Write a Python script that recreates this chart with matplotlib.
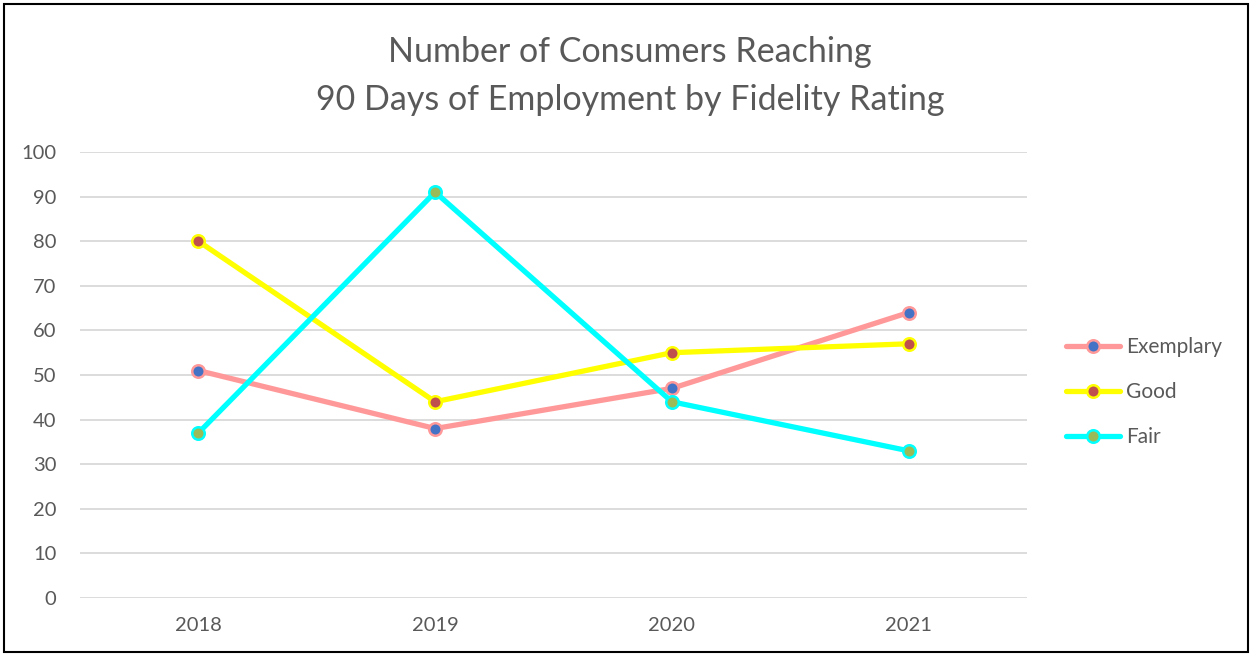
import matplotlib
matplotlib.use("Agg")
import matplotlib.pyplot as plt
from matplotlib.patches import Rectangle

years = ["2018", "2019", "2020", "2021"]
exemplary = [51, 38, 47, 64]
good = [80, 44, 55, 57]
fair = [37, 91, 44, 33]
yticks = [0, 10, 20, 30, 40, 50, 60, 70, 80, 90, 100]

plt.rcParams['font.family'] = ['Lato', 'DejaVu Sans']
fig = plt.figure(figsize=(12.52, 6.56), dpi=100)
ax = fig.add_axes([80/1252, 1-598/656, (1027-80)/1252, (598-152)/656])

x = list(range(len(years)))
series = [
    ("Exemplary", exemplary, "#FF9999", "#4472C4"),
    ("Good", good, "#FFFF00", "#C0504D"),
    ("Fair", fair, "#00FFFF", "#9BBB59"),
]
for name, vals, lc, mc in series:
    ax.plot(x, vals, color=lc, lw=3.8, marker="o", markersize=9,
            markerfacecolor=mc, markeredgecolor=lc, markeredgewidth=1.8,
            label=name, solid_capstyle="round", zorder=3)

ax.set_xlim(-0.5, 3.5)
ax.set_ylim(0, 100)
ax.set_yticks(yticks)
ax.set_xticks(x)
ax.set_xticklabels(years)
ax.tick_params(length=0, labelsize=14.5, colors="#595959", pad=14)
ax.tick_params(axis="y", pad=17)
ax.grid(axis="y", color="#D9D9D9", lw=1.3)
ax.set_axisbelow(True)
for s in ax.spines.values():
    s.set_visible(False)

fig.text(630/1252, 1-52/656, "Number of Consumers Reaching", ha="center", va="center",
         fontsize=24.5, color="#595959")
fig.text(630/1252, 1-100/656, "90 Days of Employment by Fidelity Rating", ha="center", va="center",
         fontsize=24.5, color="#595959")

leg = fig.legend(loc="center left", bbox_to_anchor=(1047/1252, 1-392/656), frameon=False,
                 fontsize=15, labelcolor="#595959", handlelength=2.6, labelspacing=1.2,
                 handletextpad=0.3)

fig.patches.append(Rectangle((4/1252, 4/656), 1-8/1252, 1-8/656, transform=fig.transFigure,
                             fill=False, edgecolor="black", lw=1.5))

fig.savefig("out.png", dpi=100)
